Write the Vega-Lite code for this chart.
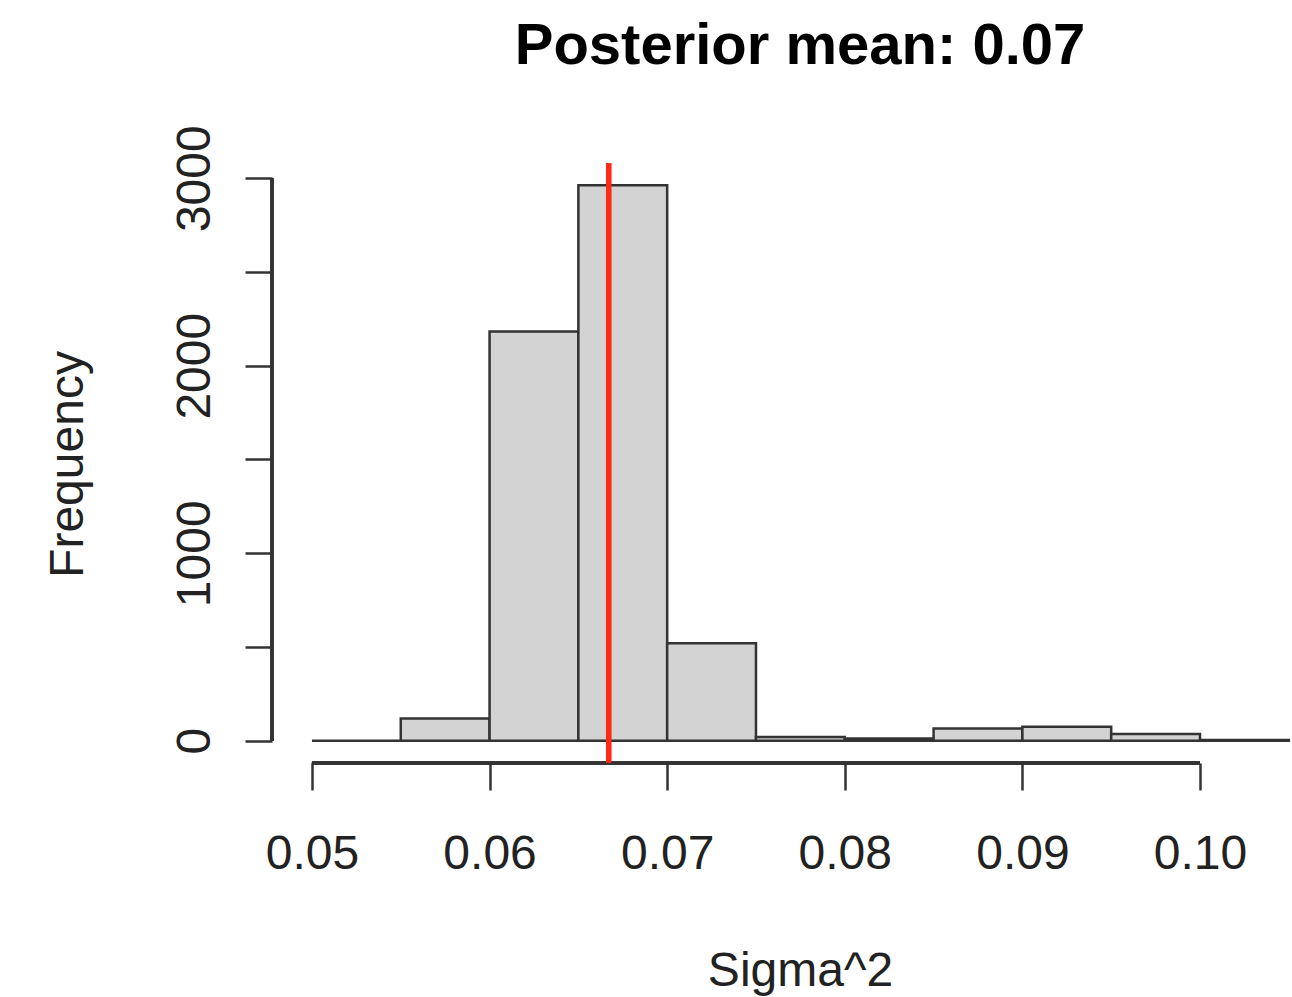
{
  "$schema": "https://vega.github.io/schema/vega-lite/v6.json",
  "width": 1020,
  "height": 600,
  "autosize": {"type": "none"},
  "padding": {"left": 272, "top": 163, "right": 0, "bottom": 234},
  "background": "white",
  "title": {
    "text": "Posterior mean: 0.07",
    "font": "Liberation Sans",
    "fontSize": 58,
    "fontWeight": "bold",
    "color": "#000000",
    "anchor": "middle",
    "frame": "group",
    "dx": 18,
    "baseline": "alphabetic",
    "offset": 3
  },
  "config": {"view": {"stroke": null}, "font": "Liberation Sans"},
  "data": {
    "values": [
      {"bin_start": 0.050, "bin_end": 0.055, "count": 0},
      {"bin_start": 0.055, "bin_end": 0.060, "count": 119},
      {"bin_start": 0.060, "bin_end": 0.065, "count": 2183},
      {"bin_start": 0.065, "bin_end": 0.070, "count": 2963},
      {"bin_start": 0.070, "bin_end": 0.075, "count": 520},
      {"bin_start": 0.075, "bin_end": 0.080, "count": 20},
      {"bin_start": 0.080, "bin_end": 0.085, "count": 12},
      {"bin_start": 0.085, "bin_end": 0.090, "count": 66},
      {"bin_start": 0.090, "bin_end": 0.095, "count": 75},
      {"bin_start": 0.095, "bin_end": 0.100, "count": 36},
      {"bin_start": 0.100, "bin_end": 0.105, "count": 4}
    ]
  },
  "layer": [
    {
      "mark": {"type": "rect", "fill": "#d3d3d3", "stroke": "#333333", "strokeWidth": 2.5},
      "encoding": {
        "x": {
          "field": "bin_start",
          "type": "quantitative",
          "scale": {"domain": [0.04775, 0.10518], "nice": false, "zero": false},
          "axis": {
            "title": "Sigma^2",
            "values": [0.05, 0.06, 0.07, 0.08, 0.09, 0.10],
            "format": ".2f",
            "domain": false,
            "grid": false,
            "ticks": true,
            "tickSize": 27,
            "tickWidth": 2.5,
            "tickColor": "#333333",
            "labelFont": "Liberation Sans",
            "labelFontSize": 48,
            "labelColor": "#222222",
            "labelBaseline": "alphabetic",
            "labelPadding": 78,
            "labelFlush": false,
            "labelOverlap": false,
            "titleFont": "Liberation Sans",
            "titleFontSize": 48,
            "titleFontWeight": "normal",
            "titleColor": "#222222",
            "titleX": 528,
            "titleY": 222,
            "titleBaseline": "alphabetic",
            "titleAlign": "center"
          }
        },
        "x2": {"field": "bin_end"},
        "y": {
          "field": "count",
          "type": "quantitative",
          "scale": {"domain": [-118.5, 3081], "nice": false, "zero": false},
          "axis": {
            "title": "Frequency",
            "values": [0, 500, 1000, 1500, 2000, 2500, 3000],
            "format": "d",
            "labelExpr": "datum.value % 1000 == 0 ? datum.label : ''",
            "domain": false,
            "grid": false,
            "ticks": true,
            "tickSize": 27,
            "tickWidth": 2.5,
            "tickColor": "#333333",
            "labelFont": "Liberation Sans",
            "labelFontSize": 48,
            "labelColor": "#222222",
            "labelAngle": -90,
            "labelAlign": "center",
            "labelBaseline": "alphabetic",
            "labelPadding": 36,
            "labelOverlap": false,
            "labelFlush": false,
            "titleFont": "Liberation Sans",
            "titleFontSize": 48,
            "titleFontWeight": "normal",
            "titleColor": "#222222",
            "titleAngle": -90,
            "titleX": -190,
            "titleY": 301,
            "titleBaseline": "alphabetic",
            "titleAlign": "center"
          }
        },
        "y2": {"datum": 0}
      }
    },
    {
      "mark": {"type": "rule", "color": "#333333", "strokeWidth": 2.5},
      "encoding": {
        "x": {"datum": 0.05},
        "x2": {"datum": 0.10},
        "y": {"datum": -118.5}
      }
    },
    {
      "mark": {"type": "rule", "color": "#333333", "strokeWidth": 2.5},
      "encoding": {
        "x": {"datum": 0.04775},
        "y": {"datum": 0},
        "y2": {"datum": 3000}
      }
    },
    {
      "mark": {"type": "rule", "color": "#ff2a12", "strokeWidth": 5},
      "encoding": {
        "x": {"datum": 0.0667}
      }
    }
  ]
}
